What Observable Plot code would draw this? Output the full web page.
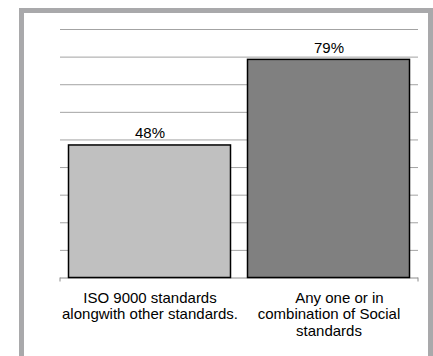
<!DOCTYPE html>
<html>
<head>
<meta charset="utf-8">
<script src="https://cdn.jsdelivr.net/npm/d3@7"></script>
<script src="https://cdn.jsdelivr.net/npm/@observablehq/plot@0.6"></script>
<style>
  html, body { margin: 0; padding: 0; background: #fff; }
  #wrap { position: relative; width: 433px; height: 356px; overflow: hidden; }
  #panel {
    position: absolute; left: 19px; top: 8px; width: 404px; height: 400px;
    border: 5px solid #a9a9ab; border-bottom: none; box-sizing: content-box;
  }
  #chart { position: absolute; left: 0; top: 0; }
</style>
</head>
<body>
<div id="wrap">
  <div id="panel"></div>
  <div id="chart"></div>
</div>
<script>
// Share of respondents by type of standard adopted
const categories = [
  "ISO 9000 standards\nalongwith other standards.",
  "\u00a0\u00a0\u00a0\u00a0\u00a0Any one or in\ncombination of Social\nstandards"
];
const values = [48, 79];
const gridTicks = [10, 20, 30, 40, 50, 60, 70, 80, 90];
const barColors = ["#c0c0c0", "#808080"];

const data = categories.map((category, i) => ({category, value: values[i]}));

// small tick marks at both ends of the category axis
function edgeTicks(index, scales, values, dims) {
  const y0 = scales.y(0);
  const g = d3.create("svg:g").attr("stroke", "#8c8c8c");
  for (const x of [dims.marginLeft, dims.width - dims.marginRight]) {
    g.append("line").attr("x1", x).attr("x2", x).attr("y1", y0).attr("y2", y0 + 4);
  }
  return g.node();
}

const chart = Plot.plot({
  width: 433,
  height: 356,
  marginLeft: 60,
  marginRight: 15,
  marginTop: 29,
  marginBottom: 78.5,
  style: {fontFamily: "'Liberation Sans', Arial, sans-serif", background: "transparent", color: "#000"},
  x: {domain: categories, padding: 0, axis: null},
  y: {domain: [0, 90], axis: null},
  color: {domain: categories, range: barColors},
  marks: [
    Plot.ruleY(gridTicks, {stroke: "#a3a3a3", strokeWidth: 1}),
    Plot.ruleY([0], {stroke: "#8c8c8c", strokeWidth: 1}),
    edgeTicks,
    Plot.barY(data, {
      x: "category", y: "value", fill: "category",
      stroke: "#000", strokeWidth: 1.5, insetLeft: 8.5, insetRight: 8.5
    }),
    Plot.text(data, {
      x: "category", y: "value", text: d => `${d.value}%`,
      lineAnchor: "bottom", dy: -7, fontSize: 15, fill: "#000"
    }),
    Plot.text(data, {
      x: "category", y: () => 0, text: "category",
      lineAnchor: "top", dy: 13, lineHeight: 1.1, fontSize: 15, fill: "#000"
    })
  ]
});

document.getElementById("chart").appendChild(chart);
</script>
</body>
</html>
